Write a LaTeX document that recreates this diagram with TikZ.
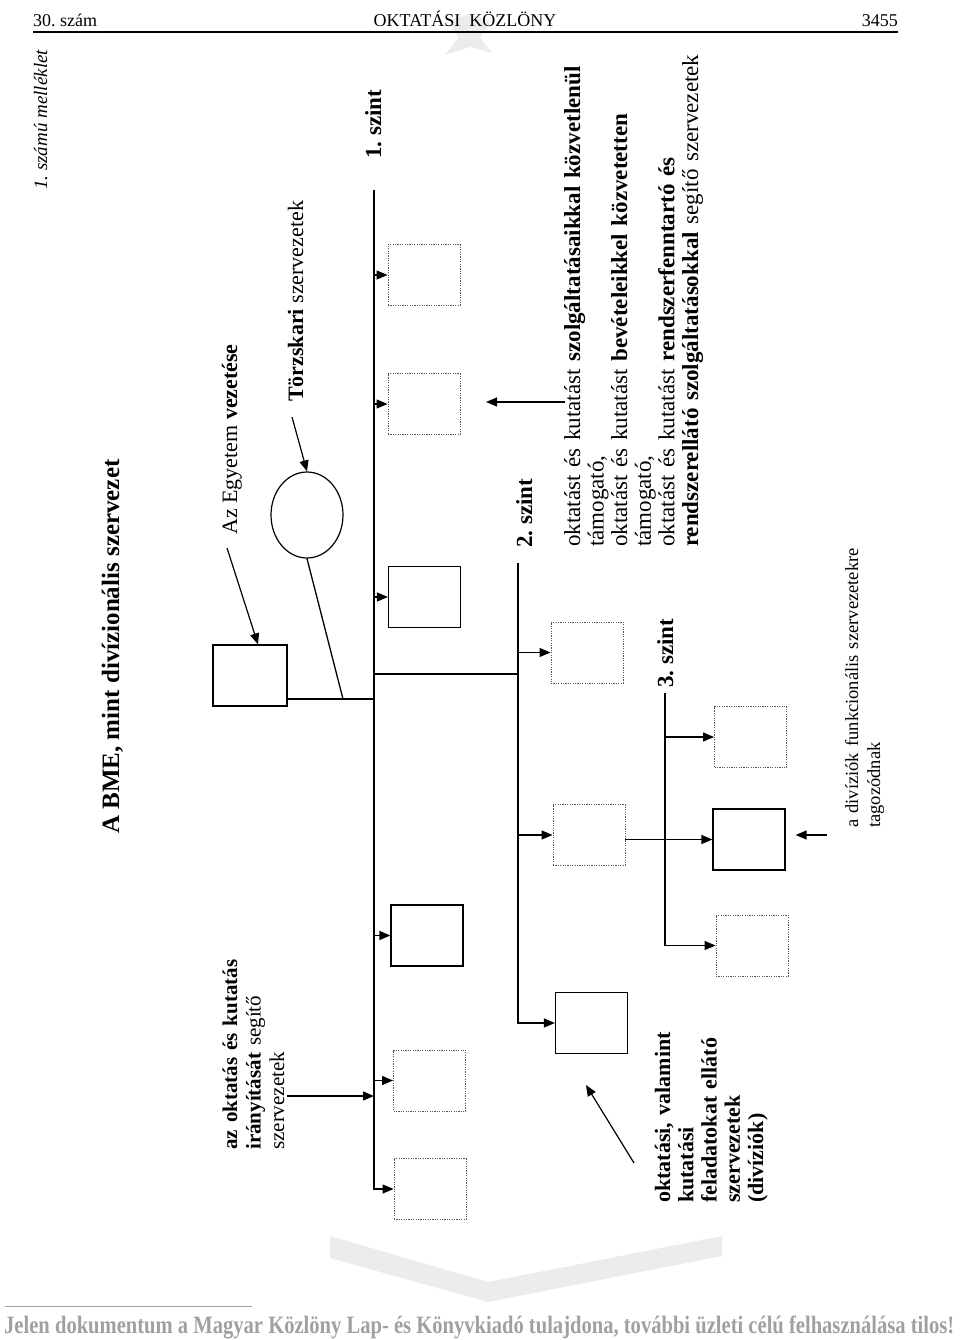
\documentclass[tikz,border=0pt]{standalone}
\usepackage{fontspec}
\setmainfont{Liberation Serif}
\usepackage{graphicx}
\usetikzlibrary{arrows.meta, shapes.geometric, calc}
\definecolor{dotgray}{RGB}{85,85,85}
\definecolor{markgray}{RGB}{236,236,236}
\definecolor{footgray}{RGB}{160,160,160}
\newcommand{\szfont}[2]{\fontsize{#1}{#2}\selectfont}
\frenchspacing
\tikzset{
  unit/.style  = {draw, line width=1.2pt, minimum width=72pt, minimum height=61pt, inner sep=0pt},
  dunit/.style = {draw=dotgray, line width=0.9pt, dash pattern=on 1.2pt off 1.2pt,
                  minimum width=72pt, minimum height=61pt, inner sep=0pt},
  arr/.style   = {-{Triangle[length=11pt, width=9pt]}, line width=1.2pt},
  wire/.style  = {line width=1.3pt},
  lbl/.style   = {rotate=90, anchor=base west, inner sep=0pt, align=left},
}

\begin{document}
\begin{tikzpicture}[x=1pt, y=-1pt]
  \useasboundingbox (0,0) rectangle (960,1340);
  % watermark
  \fill[markgray] (450,20) -- (470,14) -- (490,22) -- (480,38) -- (492,53) -- (470,47) -- (445,55) -- (458,38) -- cycle;
  \fill[markgray] (330,1236) -- (488,1282) -- (722,1236) -- (722,1256) -- (488,1302) -- (330,1258) -- cycle;
  % header
  \node[anchor=base west, inner sep=0pt, font=\szfont{18}{20}] (pnum) at (33,27) {30. szám};
  \node[anchor=base, inner sep=0pt, font=\szfont{18}{20}] (journal) at (465,27) {OKTATÁSI\ \ KÖZLÖNY};
  \node[anchor=base east, inner sep=0pt, font=\szfont{18}{20}] (page) at (898,27) {3455};
  \draw[line width=1.6pt] (33,32) -- (898,32);
  \node[lbl, font=\szfont{19}{21}\itshape] (annex) at (47,190) {1. számú melléklet};
  \node[lbl, font=\bfseries\szfont{25}{27}] (title) at (119,834) {A BME, mint divízionális szervezet};

  % level 1
  \coordinate (s1top) at (374,190);
  \node[dunit] (b1) at (424,275) {};
  \node[dunit] (b2) at (424,404) {};
  \node[unit] (b3) at (424.5,597) {};
  \node[unit] (b4) at (427,935.5) {};
  \node[dunit] (b5) at (429.5,1080.5) {};
  \node[dunit] (b6) at (430,1189) {};
  \foreach \b in {b1,b2,b3,b4,b5}
    \draw[arr] (\b.west -| s1top) -- (\b.west);
  \draw[arr] (s1top) -- (b6.west -| s1top) -- (b6.west);
  \node[lbl, font=\bfseries\szfont{23}{25}] (sz1) at (381,159) {1. szint};

  % leadership and staff
  \node[unit, minimum width=74pt] (lead) at (250,675.5) {};
  \node[ellipse, draw, line width=1.2pt, minimum width=72pt, minimum height=86pt, inner sep=0pt] (staff) at (307,515) {};
  \coordinate (j1) at (374,699);
  \coordinate (j2) at (343,699);
  \draw[wire] (lead.east |- j1) -- (j1);
  \draw[wire] (staff.south) -- (j2);
  \node[lbl, font=\szfont{22}{24}] (egy) at (237,535) {Az Egyetem \textbf{vezetése}};
  \node[lbl, font=\szfont{22}{24}] (torzs) at (303,402) {\textbf{Törzskari} szervezetek};
  \coordinate (egytail) at (227,548);
  \coordinate (torztail) at (292,417);
  \draw[arr] (egytail) -- ([xshift=8pt]lead.north);
  \draw[arr] (torztail) -- (staff.north);

  % level 2
  \coordinate (s2top) at (518,563);
  \coordinate (j3) at (374,674);
  \draw[wire] (j3) -- (j3 -| s2top);
  \node[dunit] (c1) at (587,652.5) {};
  \node[dunit] (c2) at (589,835) {};
  \node[unit] (c3) at (591.5,1023) {};
  \foreach \b in {c1,c2}
    \draw[arr] (\b.west -| s2top) -- (\b.west);
  \draw[arr] (s2top) -- (c3.west -| s2top) -- (c3.west);
  \node[lbl, font=\bfseries\szfont{23}{25}] (sz2) at (532,548) {2. szint};

  % level 3
  \coordinate (s3top) at (665,693);
  \node[dunit] (d1) at (750.5,737) {};
  \node[unit] (d2) at (749,839.5) {};
  \node[dunit] (d3) at (752,945.5) {};
  \draw[arr] (d1.west -| s3top) -- (d1.west);
  \draw[arr] (c2.east |- d2.west) -- (d2.west);
  \draw[arr] (s3top) -- (d3.west -| s3top) -- (d3.west);
  \node[lbl, font=\bfseries\szfont{23}{25}] (sz3) at (673,688) {3. szint};

  % explanations
  \node[lbl, text width=500pt, font=\szfont{23}{23.6}] (services) at (580,547)
    {oktatást és kutatást \textbf{szolgáltatásaikkal közvetlenül}\\
     támogató,\\
     oktatást és kutatást \textbf{bevételeikkel közvetetten}\\
     támogató,\\
     oktatást és kutatást \textbf{rendszerfenntartó és}\\
     \textbf{rendszerellátó szolgáltatásokkal} segítő szervezetek};
  \coordinate (svctail) at (565,402);
  \coordinate (svctip) at (486,402);
  \draw[arr] (svctail) -- (svctip);

  \node[lbl, text width=300pt, font=\szfont{18.5}{22}] (funk) at (858,828)
    {\makebox[283pt][s]{a divíziók funkcionális szervezetekre}\\ tagozódnak};
  \coordinate (funktail) at (827,835);
  \draw[arr, shorten >=10pt] (funktail) -- (d2.east |- funktail);

  \node[lbl, text width=220pt, font=\szfont{21}{23.5}] (irany) at (237,1150)
    {\textbf{az oktatás és kutatás}\\ \textbf{irányítását} segítő\\ szervezetek};
  \coordinate (iranytail) at (287,1096);
  \draw[arr] (iranytail) -- (iranytail -| s1top);

  \node[lbl, text width=220pt, font=\bfseries\szfont{22}{23.3}] (divs) at (670,1203)
    {oktatási, valamint\\ kutatási\\ feladatokat ellátó\\ szervezetek\\ (divíziók)};
  \coordinate (divtail) at (634,1163);
  \coordinate (divtip) at (586,1085);
  \draw[arr] (divtail) -- (divtip);

  % footer
  \draw[footgray, line width=0.8pt] (5,1306) -- (252,1306);
  \node[anchor=base west, inner sep=0pt, text=footgray, font=\bfseries\szfont{25}{27}] (notice) at (4,1333)
    {\resizebox{950pt}{\height}{Jelen dokumentum a Magyar Közlöny Lap- és Könyvkiadó tulajdona, további üzleti célú felhasználása tilos!}};
\end{tikzpicture}
\end{document}
